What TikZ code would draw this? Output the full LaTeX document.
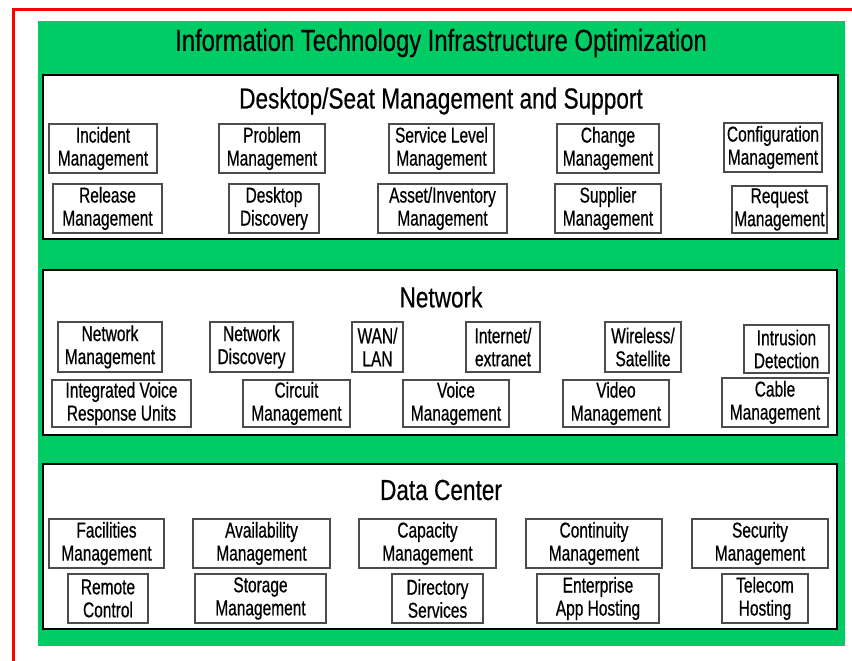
\documentclass[tikz,border=0pt]{standalone}
\usepackage{fontspec}
\setmainfont{Liberation Sans}[FakeStretch=0.78, FakeBold=0.4]
\newfontfamily\narrowfont{Liberation Sans}[FakeStretch=0.72, FakeBold=0.6]
\definecolor{itgreen}{RGB}{0,204,102}
\begin{document}
\begin{tikzpicture}[x=1pt,y=-1pt,
    item/.style={draw=black!70, line width=1.2pt, fill=white, align=center,
        inner sep=0pt, minimum height=49pt, font=\narrowfont\fontsize{21.5}{23}\selectfont},
    panel/.style={draw=black, line width=1.4pt, fill=white},
    paneltitle/.style={font=\fontsize{29}{32}\selectfont}]
    \useasboundingbox (0,0) rectangle (852,661);

    % Marco rojo
    \draw[red, line width=3pt] (13,670) -- (13,9.5) -- (860,9.5);

    % Fondo verde y titulo
    \fill[itgreen] (38,21) rectangle (845,646);
    \node[font=\fontsize{30.5}{34}\selectfont] (title) at (441,43)
        {Information Technology Infrastructure Optimization};

    % Desktop/Seat
    \draw[panel] (43,75) rectangle (838,239);
    \node[paneltitle] (desktop) at (441,101) {Desktop/Seat Management and Support};
    \node[item, minimum width=108pt] (incident) at (103,148.5) {Incident\\Management};
    \node[item, minimum width=106pt] (problem) at (272,148.5) {Problem\\Management};
    \node[item, minimum width=105pt] (servicelevel) at (441.5,148.5) {Service Level\\Management};
    \node[item, minimum width=102pt] (change) at (608,148.5) {Change\\Management};
    \node[item, minimum width=98pt] (config) at (773,147.5) {Configuration\\Management};
    \node[item, minimum width=109pt] (release) at (107.5,208.5) {Release\\Management};
    \node[item, minimum width=90pt] (deskdisc) at (274,208.5) {Desktop\\Discovery};
    \node[item, minimum width=129pt] (asset) at (442.5,208.5) {Asset/Inventory\\Management};
    \node[item, minimum width=106pt] (supplier) at (608,208.5) {Supplier\\Management};
    \node[item, minimum width=95pt, minimum height=47pt] (request) at (779.5,209.5) {Request\\Management};

    % Network
    \draw[panel] (43,270) rectangle (837,435);
    \node[paneltitle] (network) at (441,297) {Network};
    \node[item, minimum width=104pt, minimum height=50pt] (netmgmt) at (110,347) {Network\\Management};
    \node[item, minimum width=83pt, minimum height=50pt] (netdisc) at (251.5,347) {Network\\Discovery};
    \node[item, minimum width=51pt, minimum height=50pt] (wanlan) at (377.5,347) {WAN/\\LAN};
    \node[item, minimum width=74pt, minimum height=50pt] (internet) at (503,347) {Internet/\\extranet};
    \node[item, minimum width=76pt, minimum height=50pt] (wireless) at (643,347) {Wireless/\\Satellite};
    \node[item, minimum width=85pt, minimum height=48pt] (intrusion) at (786.5,349) {Intrusion\\Detection};
    \node[item, minimum width=139pt, minimum height=47pt] (ivr) at (121.5,403.5) {Integrated Voice\\Response Units};
    \node[item, minimum width=107pt, minimum height=47pt] (circuit) at (296.5,403.5) {Circuit\\Management};
    \node[item, minimum width=106pt, minimum height=47pt] (voice) at (456,403.5) {Voice\\Management};
    \node[item, minimum width=106pt, minimum height=47pt] (video) at (616,403.5) {Video\\Management};
    \node[item, minimum width=106pt] (cable) at (775,402.5) {Cable\\Management};

    % Data Center
    \draw[panel] (43,464) rectangle (837,629);
    \node[paneltitle] (datacenter) at (441,490) {Data Center};
    \node[item, minimum width=115pt] (facilities) at (106.5,543.5) {Facilities\\Management};
    \node[item, minimum width=137pt] (availability) at (261.5,543.5) {Availability\\Management};
    \node[item, minimum width=137pt] (capacity) at (427.5,543.5) {Capacity\\Management};
    \node[item, minimum width=136pt] (continuity) at (594,543.5) {Continuity\\Management};
    \node[item, minimum width=136pt] (security) at (760,543.5) {Security\\Management};
    \node[item, minimum width=80pt] (remote) at (108,598.5) {Remote\\Control};
    \node[item, minimum width=131pt] (storage) at (260.5,598.5) {Storage\\Management};
    \node[item, minimum width=91pt] (directory) at (437.5,598.5) {Directory\\Services};
    \node[item, minimum width=122pt] (enterprise) at (598,598.5) {Enterprise\\App Hosting};
    \node[item, minimum width=86pt] (telecom) at (765,598.5) {Telecom\\Hosting};
\end{tikzpicture}
\end{document}
